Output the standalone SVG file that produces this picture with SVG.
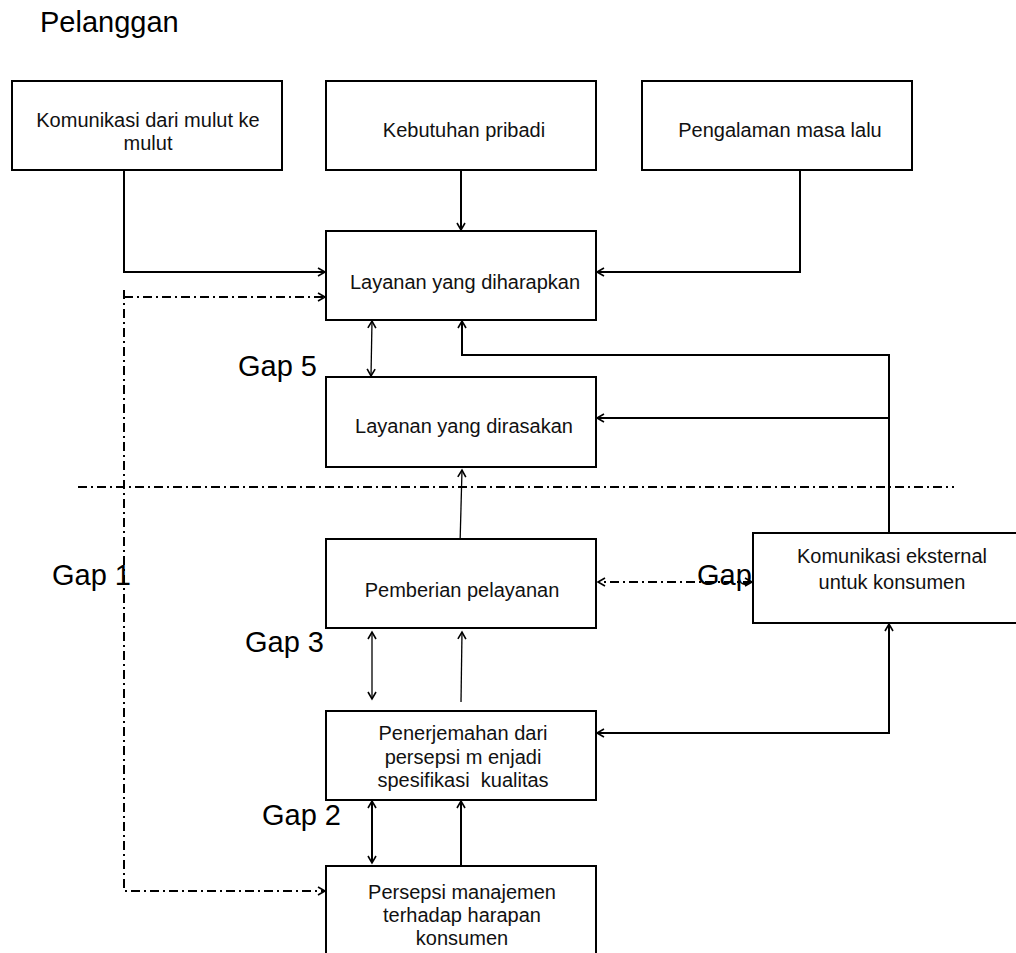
<svg xmlns="http://www.w3.org/2000/svg" width="1016" height="953" viewBox="0 0 1016 953">
<style>
.box{fill:#fff;stroke:#000;stroke-width:2}
.t{font-family:"Liberation Sans",Arial,sans-serif;font-size:20px;fill:#111;text-anchor:middle}
.big{font-family:"Liberation Sans",Arial,sans-serif;font-size:29px;fill:#000}
.c{fill:none;stroke:#000;stroke-width:2}
.thin{fill:none;stroke:#000;stroke-width:1.3}
.dd{fill:none;stroke:#000;stroke-width:2;stroke-dasharray:9 4 2 4}
</style>
<defs>
<marker id="ah" markerUnits="userSpaceOnUse" markerWidth="12" markerHeight="12" refX="10" refY="6" orient="auto-start-reverse">
<path d="M3,2 L10,6 L3,10" fill="none" stroke="#000" stroke-width="1.6"/>
</marker>
</defs>
<rect width="1016" height="953" fill="#fff"/>
<text class="big" x="40" y="32">Pelanggan</text>
<g id="connectors">
<path class="c" d="M124,163 V272 H325" marker-end="url(#ah)"/>
<path class="dd" d="M124,290 V891 H325" marker-end="url(#ah)"/>
<path class="dd" d="M124,297 H325" marker-end="url(#ah)"/>
<path class="c" d="M461,163 V230" marker-end="url(#ah)"/>
<path class="c" d="M800,163 V272 H597" marker-end="url(#ah)"/>
<path class="thin" d="M372,321 L371,376" marker-start="url(#ah)" marker-end="url(#ah)"/>
<path class="c" d="M889,533 V355 H462 V321" marker-end="url(#ah)"/>
<path class="c" d="M889,418 H597" marker-end="url(#ah)"/>
<path class="thin" d="M460,545 L462,470" marker-end="url(#ah)"/>
<path class="dd" d="M78,487 H954"/>
<path class="dd" d="M752,582 H598" marker-start="url(#ah)" marker-end="url(#ah)"/>
<path class="c" d="M597,733 H889 V624" marker-start="url(#ah)" marker-end="url(#ah)"/>
<path class="thin" d="M372,632 V699" marker-start="url(#ah)" marker-end="url(#ah)"/>
<path class="thin" d="M461,702 L462,632" marker-end="url(#ah)"/>
<path class="c" d="M372,801 V863" marker-start="url(#ah)" marker-end="url(#ah)"/>
<path class="c" d="M461,866 V801" marker-end="url(#ah)"/>
</g>
<g id="n-mulut">
<rect class="box" x="12" y="81" width="270" height="89"/>
<text class="t" x="148" y="127">Komunikasi dari mulut ke</text>
<text class="t" x="148" y="150">mulut</text>
</g>
<g id="n-kebutuhan">
<rect class="box" x="326" y="81" width="270" height="89"/>
<text class="t" x="464" y="137">Kebutuhan pribadi</text>
</g>
<g id="n-pengalaman">
<rect class="box" x="642" y="81" width="270" height="89"/>
<text class="t" x="780" y="137">Pengalaman masa lalu</text>
</g>
<g id="n-diharapkan">
<rect class="box" x="326" y="231" width="270" height="89"/>
<text class="t" x="465" y="289">Layanan yang diharapkan</text>
</g>
<g id="n-dirasakan">
<rect class="box" x="326" y="377" width="270" height="90"/>
<text class="t" x="464" y="433">Layanan yang dirasakan</text>
</g>
<g id="n-pemberian">
<rect class="box" x="326" y="539" width="270" height="89"/>
<text class="t" x="462" y="597">Pemberian pelayanan</text>
</g>
<g id="n-eksternal">
<rect class="box" x="753" y="533" width="278" height="90"/>
<text class="t" x="892" y="563">Komunikasi eksternal</text>
<text class="t" x="892" y="589">untuk konsumen</text>
</g>
<g id="n-penerjemahan">
<rect class="box" x="326" y="711" width="270" height="89"/>
<text class="t" x="463" y="740">Penerjemahan dari</text>
<text class="t" x="463" y="764">persepsi m enjadi</text>
<text class="t" x="463" y="787" style="white-space:pre">spesifikasi  kualitas</text>
</g>
<g id="n-persepsi">
<rect class="box" x="326" y="866" width="270" height="100"/>
<text class="t" x="462" y="899">Persepsi manajemen</text>
<text class="t" x="462" y="922">terhadap harapan</text>
<text class="t" x="462" y="945">konsumen</text>
</g>
<g id="labels">
<text class="big" x="238" y="376">Gap 5</text>
<text class="big" x="52" y="585">Gap 1</text>
<text class="big" x="697" y="585">Gap</text>
<text class="big" x="245" y="652">Gap 3</text>
<text class="big" x="262" y="825">Gap 2</text>
</g>
</svg>
